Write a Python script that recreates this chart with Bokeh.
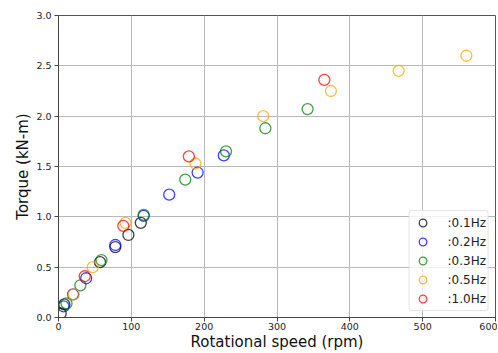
from bokeh.plotting import figure
from bokeh.models import ColumnDataSource, FixedTicker, PrintfTickFormatter, Range1d
from bokeh.embed import file_html
from bokeh.resources import INLINE

# Data (rotational speed in rpm, torque in kN-m)
speed_01 = [3, 8, 57, 78, 96, 113]
torque_01 = [0.04, 0.13, 0.55, 0.70, 0.82, 0.94]

speed_02 = [7, 20, 38, 78, 117, 152, 191, 227]
torque_02 = [0.11, 0.23, 0.39, 0.72, 1.01, 1.22, 1.44, 1.61]

speed_03 = [11, 30, 59, 117, 174, 230, 284, 342]
torque_03 = [0.14, 0.32, 0.57, 1.02, 1.37, 1.65, 1.88, 2.07]

speed_05 = [21, 47, 92, 188, 281, 374, 467, 560]
torque_05 = [0.23, 0.50, 0.94, 1.53, 2.00, 2.25, 2.45, 2.60]

speed_10 = [36, 89, 179, 365]
torque_10 = [0.41, 0.91, 1.60, 2.36]

series = [
    (":0.1Hz", speed_01, torque_01, "black"),
    (":0.2Hz", speed_02, torque_02, "blue"),
    (":0.3Hz", speed_03, torque_03, "green"),
    (":0.5Hz", speed_05, torque_05, "orange"),
    (":1.0Hz", speed_10, torque_10, "red"),
]

x_ticks = [0, 100, 200, 300, 400, 500, 600]
y_ticks = [0.0, 0.5, 1.0, 1.5, 2.0, 2.5, 3.0]

p = figure(width=497, height=353, output_backend="svg", toolbar_location=None,
           x_range=Range1d(0, 600), y_range=Range1d(0, 3.0),
           min_border_left=58, min_border_right=2, min_border_top=15, min_border_bottom=36)

for label, xs, ys, color in series:
    src = ColumnDataSource(dict(x=xs, y=ys))
    p.scatter("x", "y", source=src, marker="circle", size=11, fill_color=None,
              line_color=color, line_alpha=0.75, line_width=1.3, legend_label=label)

p.xaxis.ticker = FixedTicker(ticks=x_ticks)
p.yaxis.ticker = FixedTicker(ticks=y_ticks)
p.yaxis.formatter = PrintfTickFormatter(format="%.1f")

for ax in (p.xaxis, p.yaxis):
    ax.major_label_text_font = "DejaVu Sans"
    ax.major_label_text_font_size = "9.5px"
    ax.major_label_text_color = "#222222"
    ax.axis_label_text_font = "DejaVu Sans"
    ax.axis_label_text_font_size = "15px"
    ax.axis_label_text_font_style = "normal"
    ax.axis_label_text_color = "#111111"
    ax.minor_tick_line_color = None
    ax.major_tick_in = 0
    ax.major_tick_out = 4
    ax.axis_line_color = "#444444"
    ax.major_tick_line_color = "#444444"

p.xaxis.major_label_standoff = 1
p.xaxis.axis_label_standoff = 0
p.yaxis.major_label_standoff = 3
p.yaxis.axis_label_standoff = 1

p.xaxis.axis_label = "Rotational speed (rpm)"
p.yaxis.axis_label = "Torque (kN-m)"

p.grid.grid_line_color = "#b8b8b8"
p.grid.grid_line_width = 1
p.outline_line_color = "#555555"
p.outline_line_width = 1
p.background_fill_color = "white"
p.border_fill_color = "white"

lg = p.legend[0]
lg.location = "bottom_right"
lg.margin = 6
lg.padding = 2
lg.spacing = 0
lg.label_height = 19
lg.glyph_height = 19
lg.glyph_width = 22
lg.label_standoff = 14
lg.label_text_font = "DejaVu Sans"
lg.label_text_font_size = "12px"
lg.label_text_color = "#222222"
lg.border_line_color = "#cccccc"
lg.border_line_width = 1
lg.background_fill_alpha = 0.8
lg.border_radius = 3

open("out.html", "w").write(file_html(p, INLINE))
